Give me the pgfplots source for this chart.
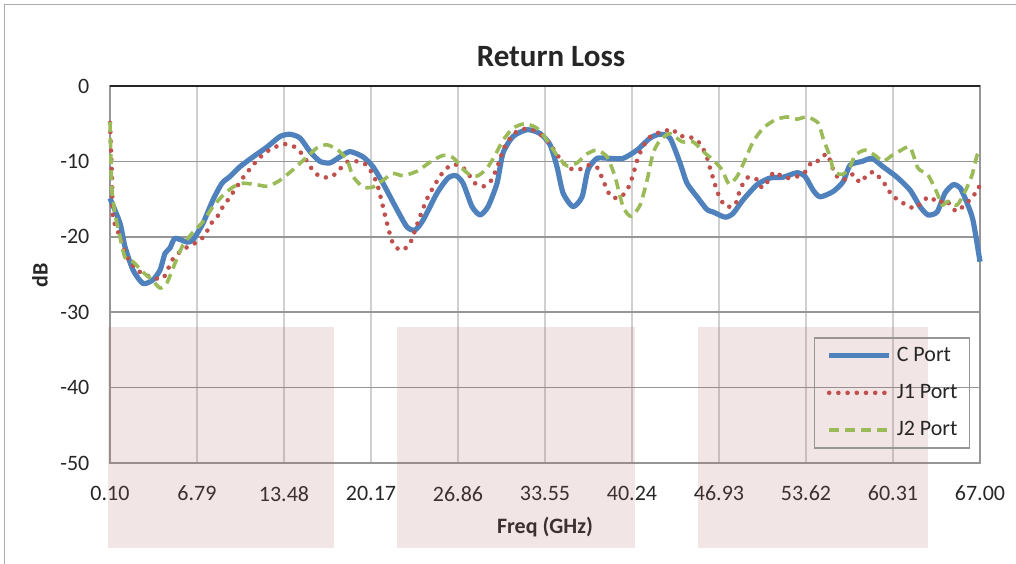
\documentclass[border=0pt]{standalone}
\usepackage{fontspec}
\setmainfont{Carlito}
\usepackage{pgfplots}
\usepackage{pgfplotstable}
\pgfplotsset{compat=1.18}
\definecolor{cblue}{RGB}{79,129,189}
\definecolor{cred}{RGB}{192,80,77}
\definecolor{cgreen}{RGB}{155,187,89}
\definecolor{pinkov}{RGB}{180,100,100}
\definecolor{gridh}{RGB}{150,150,150}
\definecolor{gridv}{RGB}{208,208,208}
\definecolor{txt}{RGB}{38,38,38}

\pgfplotstableread{
f db
0.10 -14.9
0.87 -18.2
1.25 -21.3
1.87 -24.4
2.64 -26.2
3.41 -25.7
3.95 -24.4
4.33 -22.2
4.71 -21.5
5.10 -20.2
6.02 -20.7
6.48 -20.4
7.25 -18.2
8.02 -15.1
8.71 -12.9
9.33 -12.0
10.10 -10.7
11.10 -9.4
12.17 -8.1
13.17 -6.7
13.94 -6.4
14.71 -6.9
15.48 -8.7
16.25 -10.0
17.02 -10.2
17.78 -9.4
18.55 -8.7
19.56 -9.4
20.32 -10.7
21.09 -12.9
22.17 -16.4
22.94 -18.7
23.55 -19.1
24.17 -17.8
25.25 -14.2
26.09 -12.2
26.71 -11.9
27.25 -12.9
27.94 -16.0
28.56 -17.1
29.17 -16.0
29.86 -12.9
30.32 -8.9
31.09 -6.7
32.17 -5.8
33.17 -6.3
33.94 -7.8
34.47 -10.7
34.94 -14.2
35.70 -16.0
36.40 -14.7
36.86 -11.1
37.55 -9.6
38.55 -9.6
39.55 -9.6
40.63 -8.5
41.63 -6.9
42.40 -6.4
43.16 -6.9
43.93 -10.2
44.47 -12.9
45.24 -14.7
46.01 -16.4
46.47 -16.7
47.40 -17.4
48.01 -16.9
48.78 -15.1
49.85 -13.1
50.85 -12.2
51.85 -12.1
52.93 -11.5
53.55 -12.0
54.16 -13.8
54.70 -14.7
55.70 -14.0
56.47 -12.7
57.01 -10.5
57.93 -10.0
58.70 -9.6
59.54 -10.7
60.62 -12.1
61.62 -13.8
62.39 -16.0
63.00 -17.1
63.70 -16.7
64.31 -14.2
64.93 -13.1
65.47 -13.5
66.00 -15.5
66.46 -17.8
67.00 -23.3
}\cport

\pgfplotstableread{
f db
0.10 -4.9
0.25 -12.0
0.33 -17.4
0.87 -20.0
1.41 -22.7
2.18 -24.4
3.18 -25.3
4.18 -25.5
4.87 -23.1
5.48 -22.0
6.10 -21.3
6.79 -20.7
7.41 -19.8
7.79 -18.4
8.33 -17.4
8.71 -16.2
9.17 -15.1
9.56 -14.1
10.48 -11.8
11.02 -10.7
11.48 -9.7
12.17 -8.7
12.79 -8.1
13.56 -7.7
14.33 -8.1
14.86 -9.0
15.33 -10.2
15.79 -11.4
16.40 -12.1
17.17 -12.0
17.78 -11.0
18.40 -10.0
19.09 -10.0
19.86 -10.5
20.25 -11.6
20.63 -12.9
21.02 -15.5
21.40 -18.2
21.86 -20.9
22.48 -21.8
23.09 -21.1
23.40 -19.9
23.94 -17.3
24.55 -14.7
25.32 -12.4
25.86 -11.1
26.48 -10.4
27.17 -10.7
27.71 -11.8
28.17 -12.9
28.86 -13.3
29.48 -12.4
29.78 -11.1
30.09 -9.8
30.32 -8.5
30.71 -7.3
31.24 -6.2
31.94 -5.7
32.71 -5.9
33.40 -6.7
33.94 -7.7
34.40 -8.9
34.86 -10.0
35.40 -10.9
36.17 -11.1
36.86 -10.5
37.63 -10.9
37.93 -12.2
38.24 -13.4
38.63 -14.7
39.32 -14.8
39.86 -13.8
40.16 -12.6
40.40 -11.3
40.63 -9.9
40.93 -8.6
41.32 -7.4
41.86 -6.4
42.63 -6.1
43.32 -5.7
43.86 -6.6
44.55 -6.7
45.24 -7.2
45.70 -8.3
46.01 -9.5
46.24 -10.9
46.47 -12.2
46.70 -13.5
47.01 -14.9
47.47 -16.0
48.16 -15.8
48.39 -14.6
48.70 -13.2
49.16 -12.1
49.85 -12.4
50.24 -13.5
50.70 -12.6
51.16 -11.4
51.70 -11.9
52.24 -12.2
52.93 -12.0
53.62 -11.3
54.08 -10.0
54.62 -9.9
55.24 -9.0
55.78 -11.4
56.24 -12.4
56.78 -12.3
57.24 -11.7
57.78 -12.8
58.31 -11.8
58.85 -11.4
59.39 -12.4
59.85 -13.4
60.24 -14.6
60.77 -15.1
61.39 -15.9
62.08 -16.2
62.54 -15.3
63.16 -14.7
63.77 -15.5
64.39 -15.1
64.85 -16.2
65.31 -16.6
65.93 -15.5
66.46 -14.8
66.77 -13.5
67.00 -13.4
}\jone

\pgfplotstableread{
f db
0.10 -4.8
0.18 -10.2
0.25 -13.8
0.48 -16.9
0.87 -20.0
1.25 -22.7
1.87 -23.3
2.64 -24.7
3.33 -25.7
3.95 -26.8
4.48 -26.1
5.10 -23.5
5.71 -21.1
6.48 -19.4
7.25 -18.0
8.02 -16.0
8.79 -14.5
9.56 -13.4
10.33 -12.9
11.40 -13.1
12.25 -13.3
13.17 -12.5
14.17 -11.1
15.25 -9.4
16.02 -8.2
16.79 -7.8
17.63 -8.5
18.33 -9.8
18.79 -12.0
19.56 -13.4
20.32 -13.4
21.09 -12.5
21.86 -11.6
22.63 -11.9
23.71 -11.3
24.71 -10.1
25.71 -9.2
26.48 -9.5
27.17 -10.9
27.78 -11.8
28.40 -11.9
29.09 -10.9
29.71 -9.2
30.32 -7.2
31.09 -5.6
32.01 -5.0
32.94 -5.6
33.71 -7.2
34.47 -9.2
35.24 -10.6
36.01 -10.2
36.78 -9.0
37.55 -8.5
38.32 -9.4
38.93 -12.0
39.55 -16.0
40.16 -17.3
40.86 -15.8
41.40 -12.5
41.86 -8.9
42.40 -7.2
43.16 -6.3
44.09 -7.4
44.93 -7.4
45.86 -8.9
46.47 -9.8
47.16 -11.1
47.70 -13.0
48.32 -12.0
48.93 -9.8
49.55 -7.4
50.32 -5.6
51.24 -4.5
52.16 -4.1
52.93 -4.4
53.70 -4.1
54.55 -4.9
54.93 -6.9
55.47 -9.4
55.78 -11.4
56.47 -11.7
57.01 -10.7
57.39 -9.2
58.16 -8.5
58.93 -9.2
59.54 -10.0
60.24 -9.2
60.85 -8.6
61.62 -8.1
62.23 -10.9
63.00 -11.8
63.70 -14.2
64.08 -15.8
64.54 -15.3
65.23 -15.8
65.85 -14.0
66.39 -11.8
66.77 -9.2
67.00 -8.8
}\jtwo

\begin{document}
\begin{tikzpicture}
\useasboundingbox (0,0) rectangle (508pt,281.5pt);
\draw[gray!65, line width=0.7pt] (2.25pt,-5pt) -- (2.25pt,279.25pt) -- (520pt,279.25pt);
\node[font=\bfseries\fontsize{15.5}{18}\selectfont, text=txt] at (275.5pt,253pt) {Return Loss};
\node[font=\bfseries\fontsize{11}{13}\selectfont, text=txt, rotate=90] at (20pt,144pt) {dB};
\node[font=\bfseries\fontsize{11}{13}\selectfont, text=txt] at (272.5pt,17.75pt) {Freq (GHz)};
\begin{axis}[
  at={(55pt,50pt)}, anchor=south west,
  scale only axis, width=435pt, height=188.5pt,
  xmin=0.1, xmax=67, ymin=-50, ymax=0,
  clip=false,
  xtick={0.1,6.79,13.48,20.17,26.86,33.55,40.24,46.93,53.62,60.31,67},
  xticklabels={0.10,6.79,13.48,20.17,26.86,33.55,40.24,46.93,53.62,60.31,67.00},
  ytick={-50,-40,-30,-20,-10,0},
  yticklabels={-50,-40,-30,-20,-10,0},
  major tick length=0pt,
  tick label style={font=\fontsize{11}{13}\selectfont, text=txt},
  xticklabel style={yshift=-8pt},
  yticklabel style={xshift=-6.8pt},
  xmajorgrids, ymajorgrids,
  x grid style={gridv, line width=0.75pt},
  y grid style={gridh, line width=0.75pt},
  axis line style={gridh, line width=0.75pt},
  legend style={at={(0.809,0.334)}, anchor=north west,
    draw=gridh, line width=0.75pt, fill=none,
    font=\fontsize{11}{13}\selectfont, text=txt,
    inner xsep=6pt, inner ysep=4pt, row sep=8.5pt,
    nodes={inner sep=0pt, text height=8pt, text depth=2pt},
    /tikz/every odd column/.append style={column sep=2.5pt}},
  legend cell align=left,
  legend image code/.code={\draw[#1] (0pt,0pt) -- (30pt,0pt);},
]
\addplot[cblue, line width=2.6pt, smooth, tension=0.4, line join=round] table[x=f,y=db]{\cport};
\addlegendentry{C Port}
\addplot[cred, line width=2.3pt, line cap=round, dash pattern=on 0pt off 4.6pt, smooth, tension=0.4] table[x=f,y=db]{\jone};
\addlegendentry{J1 Port}
\addplot[cgreen, line width=1.8pt, dash pattern=on 5pt off 3pt, smooth, tension=0.4, line join=round] table[x=f,y=db]{\jtwo};
\addlegendentry{J2 Port}
\fill[pinkov, fill opacity=0.17] (axis cs:-0.05,-32) rectangle (axis cs:17.33,-61.3);
\fill[pinkov, fill opacity=0.17] (axis cs:22.17,-32) rectangle (axis cs:40.47,-61.3);
\fill[pinkov, fill opacity=0.17] (axis cs:45.32,-32) rectangle (axis cs:63.0,-61.3);
\draw[black!85, line width=1pt] (rel axis cs:0,1) -- (rel axis cs:1,1);
\end{axis}
\end{tikzpicture}
\end{document}
